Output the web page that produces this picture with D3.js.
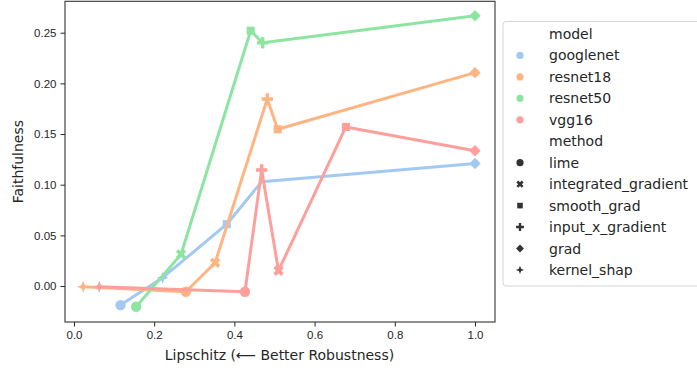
<!DOCTYPE html>
<html>
<head>
<meta charset="utf-8">
<script src="https://cdn.jsdelivr.net/npm/d3@7"></script>
<style>
  body { margin: 0; background: #fff; }
  svg { font-family: 'DejaVu Sans', sans-serif; }
  .tick text { font-size: 11.5px; fill: #262626; }
</style>
</head>
<body>
<svg width="697" height="370"></svg>
<script>
(function(d3) {
    'use strict';

    var models = ['googlenet', 'resnet18', 'resnet50', 'vgg16'];
    var methods = ['lime', 'integrated_gradient', 'smooth_grad', 'input_x_gradient', 'grad', 'kernel_shap'];
    var palette = ['#a1c9f4', '#ffb482', '#8de5a1', '#ff9f9b'];

    // [method, lipschitz, faithfulness]; null method = line vertex without visible marker
    var googlenet = [['lime', 0.116, -0.0188], ['kernel_shap', 0.221, 0.0082], ['smooth_grad', 0.381, 0.061], [null, 0.468, 0.103], ['grad', 1.0, 0.121]];
    var resnet18 = [['kernel_shap', 0.023, -0.0007], ['lime', 0.279, -0.0056], ['integrated_gradient', 0.352, 0.023], ['input_x_gradient', 0.482, 0.1846], ['smooth_grad', 0.508, 0.1547], ['grad', 1.0, 0.2106]];
    var resnet50 = [['lime', 0.155, -0.0204], ['integrated_gradient', 0.267, 0.0313], ['smooth_grad', 0.4406, 0.252], ['input_x_gradient', 0.4706, 0.2401], ['grad', 1.0, 0.2668]];
    var vgg16 = [['kernel_shap', 0.063, -0.0007], ['lime', 0.4264, -0.0056], ['input_x_gradient', 0.468, 0.1145], ['integrated_gradient', 0.51, 0.0151], ['smooth_grad', 0.678, 0.157], ['grad', 1.0, 0.1336]];

    var xTicks = [0, 0.2, 0.4, 0.6, 0.8, 1.0];
    var yTicks = [0, 0.05, 0.10, 0.15, 0.20, 0.25];

    var series = [googlenet, resnet18, resnet50, vgg16];

    var plot = { left: 65, right: 495, top: 1.3, bottom: 322 };

    var x = d3.scaleLinear().domain([-0.0224, 1.0499]).range([plot.left, plot.right]),
        y = d3.scaleLinear().domain([-0.0355, 0.281]).range([plot.bottom, plot.top]),
        color = d3.scaleOrdinal().domain(models).range(palette);

    var svg = d3.select('svg');

    // marker shapes similar to seaborn defaults
    function poly(pts) {
        return 'M' + pts.map(function (p) { return p[0].toFixed(2) + ',' + p[1].toFixed(2); }).join('L') + 'Z';
    }
    function rotate(pts, a) {
        var c = Math.cos(a), s = Math.sin(a);
        return pts.map(function (p) { return [p[0] * c - p[1] * s, p[0] * s + p[1] * c]; });
    }
    function plusPts(r, w) {
        return [[-w, -r], [w, -r], [w, -w], [r, -w], [r, w], [w, w], [w, r], [-w, r], [-w, w], [-r, w], [-r, -w], [-w, -w]];
    }
    function markerPath(method, r) {
        switch (method) {
            case 'lime':
                return d3.symbol().type(d3.symbolCircle).size(Math.PI * r * r)();
            case 'integrated_gradient':
                return poly(rotate(plusPts(r * 1.05, r * 0.36), Math.PI / 4));
            case 'smooth_grad':
                var h = r * 0.78;
                return poly([[-h, -h], [h, -h], [h, h], [-h, h]]);
            case 'input_x_gradient':
                return poly(plusPts(r * 1.1, r * 0.33));
            case 'grad':
                var d = r * 1.1;
                return poly([[0, -d], [d, 0], [0, d], [-d, 0]]);
            case 'kernel_shap':
                var o = r * 1.15, i = o * 0.4;
                var pts = [];
                for (var k = 0; k < 8; k++) {
                    var a = -Math.PI / 2 + k * Math.PI / 4, rr = k % 2 ? i : o;
                    pts.push([rr * Math.cos(a), rr * Math.sin(a)]);
                }
                return poly(pts);
        }
        return '';
    }

    // axes
    svg.append('g')
        .attr('transform', 'translate(0,' + plot.bottom + ')')
        .call(d3.axisBottom(x).tickValues(xTicks).tickFormat(d3.format('.1f')).tickSize(4.5).tickPadding(4))
        .call(function (g) { g.select('.domain').remove(); });

    svg.append('g')
        .attr('transform', 'translate(' + plot.left + ',0)')
        .call(d3.axisLeft(y).tickValues(yTicks).tickFormat(d3.format('.2f')).tickSize(4.5).tickPadding(4))
        .call(function (g) { g.select('.domain').remove(); });

    svg.selectAll('.tick line').attr('stroke', '#262626').attr('stroke-width', 1);

    var line = d3.line()
        .x(function (d) { return x(d[1]); })
        .y(function (d) { return y(d[2]); });

    series.forEach(function (pts, si) {
        var c = color(models[si]);
        var sorted = pts.slice().sort(function (a, b) { return a[1] - b[1]; });
        svg.append('path')
            .datum(sorted)
            .attr('d', line)
            .attr('fill', 'none')
            .attr('stroke', c)
            .attr('stroke-width', 3)
            .attr('stroke-linejoin', 'round');

        svg.append('g').selectAll('path')
            .data(pts.filter(function (d) { return d[0]; }))
            .enter()
            .append('path')
            .attr('transform', function (d) { return 'translate(' + x(d[1]) + ',' + y(d[2]) + ')'; })
            .attr('d', function (d) { return markerPath(d[0], 5.2); })
            .attr('fill', c);
    });

    // frame
    svg.append('rect')
        .attr('x', plot.left)
        .attr('y', plot.top)
        .attr('width', plot.right - plot.left)
        .attr('height', plot.bottom - plot.top)
        .attr('fill', 'none')
        .attr('stroke', '#333')
        .attr('stroke-width', 1.1);

    // axis labels
    svg.append('text')
        .attr('x', (plot.left + plot.right) / 2 - 0.5)
        .attr('y', 360)
        .attr('text-anchor', 'middle')
        .attr('font-size', 14)
        .attr('fill', '#262626')
        .text('Lipschitz (\u27F5 Better Robustness)');

    svg.append('text')
        .attr('transform', 'translate(23,' + (plot.top + plot.bottom) / 2 + ') rotate(-90)')
        .attr('text-anchor', 'middle')
        .attr('font-size', 14)
        .attr('fill', '#262626')
        .text('Faithfulness');

    // legend
    var legendRows = [{ label: 'model' }]
        .concat(models.map(function (m) { return { label: m, model: m }; }))
        .concat([{ label: 'method' }])
        .concat(methods.map(function (m) { return { label: m, method: m }; }));

    var legend = svg.append('g');
    legend.append('rect')
        .attr('x', 503)
        .attr('y', 21.5)
        .attr('width', 200)
        .attr('height', 264.5)
        .attr('rx', 3)
        .attr('fill', '#fff')
        .attr('stroke', '#d6d6d6');

    var rows = legend.selectAll('.legend-row')
        .data(legendRows)
        .enter()
        .append('g')
        .attr('class', 'legend-row')
        .attr('transform', function (d, i) { return 'translate(0,' + (34 + i * 21.45) + ')'; });

    rows.filter(function (d) { return d.model; })
        .append('circle')
        .attr('cx', 520)
        .attr('r', 3.6)
        .attr('fill', function (d) { return color(d.model); });

    rows.filter(function (d) { return d.method; })
        .append('path')
        .attr('transform', 'translate(520,0)')
        .attr('d', function (d) { return markerPath(d.method, 3.6); })
        .attr('fill', '#333');

    rows.append('text')
        .attr('x', 549)
        .attr('dy', '0.36em')
        .attr('font-size', 14)
        .attr('fill', '#262626')
        .text(function (d) { return d.label; });
})(window.d3);
</script>
</body>
</html>
